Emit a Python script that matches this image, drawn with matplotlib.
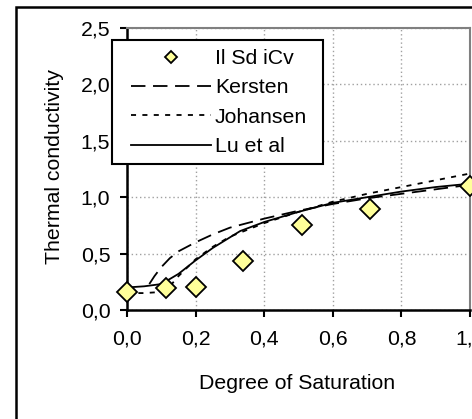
import matplotlib
matplotlib.use("Agg")
import matplotlib.pyplot as plt
from matplotlib.patches import Rectangle

plt.rcParams['font.family'] = ['Liberation Sans', 'DejaVu Sans']

# Measured thermal conductivity vs. degree of saturation
sat_meas = [0.0, 0.113, 0.20, 0.338, 0.51, 0.708, 1.0]
k_meas = [0.16, 0.195, 0.20, 0.435, 0.75, 0.895, 1.10]

# Model predictions
sat_kersten = [0.065, 0.08, 0.10, 0.125, 0.15, 0.20, 0.25, 0.30, 0.40, 0.50, 0.60, 0.70, 0.80, 0.90, 1.0]
k_kersten = [0.23, 0.30, 0.38, 0.46, 0.52, 0.60, 0.67, 0.73, 0.81, 0.88, 0.94, 0.99, 1.03, 1.07, 1.11]

sat_johansen = [0.0, 0.05, 0.10, 0.125, 0.15, 0.20, 0.25, 0.30, 0.40, 0.50, 0.60, 0.70, 0.80, 0.90, 1.0]
k_johansen = [0.15, 0.15, 0.16, 0.21, 0.30, 0.45, 0.56, 0.65, 0.77, 0.87, 0.96, 1.03, 1.09, 1.15, 1.21]

sat_lu = [0.0, 0.05, 0.10, 0.15, 0.20, 0.25, 0.33, 0.40, 0.50, 0.60, 0.70, 0.80, 0.90, 1.0]
k_lu = [0.20, 0.21, 0.23, 0.32, 0.44, 0.55, 0.70, 0.78, 0.87, 0.95, 1.00, 1.05, 1.09, 1.12]

x_ticks = [0.0, 0.2, 0.4, 0.6, 0.8, 1.0]
y_ticks = [0.0, 0.5, 1.0, 1.5, 2.0, 2.5]

FS = 15.3
W, H = 472, 419
fig = plt.figure(figsize=(W / 100, H / 100), dpi=100)

# outer chart frame
fig.patches.append(Rectangle((16 / W, -0.2), 1.5, 1 - 7.5 / H + 0.2,
                             transform=fig.transFigure, fill=False,
                             edgecolor='black', linewidth=1.8))

ax = fig.add_axes([127 / W, 1 - 310 / H, 343 / W, 282 / H])
ax.set_xlim(0, 1)
ax.set_ylim(0, 2.5)

ax.plot(sat_kersten, k_kersten, color='black', lw=1.3, dashes=(8, 4.2), label='Kersten')
ax.plot(sat_johansen, k_johansen, color='black', lw=1.3, dashes=(2.8, 3.5), label='Johansen')
ax.plot(sat_lu, k_lu, color='black', lw=1.3, label='Lu et al')
ax.plot(sat_meas, k_meas, ls='none', marker='D', ms=10.5, mfc='#FFFF99',
        mec='black', mew=1.3, clip_on=False, zorder=5, label='Il Sd iCv')

ax.set_xticks(x_ticks)
ax.set_yticks(y_ticks)
ax.set_xticklabels([f"{v:.1f}".replace('.', ',') for v in x_ticks], fontsize=FS)
ax.set_yticklabels([f"{v:.1f}".replace('.', ',') for v in y_ticks], fontsize=FS)
ax.tick_params(axis='both', direction='out', length=5, width=1.5, color='black', pad=7)
ax.tick_params(axis='x', pad=9)

ax.grid(True, color='#a0a0a0', linestyle=(0, (1, 2)), linewidth=1.0)
ax.set_axisbelow(True)

for side in ('left', 'bottom'):
    ax.spines[side].set_color('black')
    ax.spines[side].set_linewidth(1.8)
for side in ('top', 'right'):
    ax.spines[side].set_color('#808080')
    ax.spines[side].set_linewidth(1.5)

fig.text(297 / W, 1 - 383 / H, 'Degree of Saturation', ha='center', va='center', fontsize=FS)
fig.text(55 / W, 1 - 167 / H, 'Thermal conductivity', ha='center', va='center',
         rotation=90, fontsize=FS)

# legend box
fig.patches.append(Rectangle((112 / W, 1 - 164 / H), 211 / W, 124 / H,
                             transform=fig.transFigure, facecolor='white',
                             edgecolor='black', linewidth=1.5, zorder=4))

handles, labels = ax.get_legend_handles_labels()
order = [3, 0, 1, 2]
leg = fig.legend([handles[i] for i in order], [labels[i] for i in order],
                 loc='upper left', bbox_to_anchor=(131 / W, 1 - 49 / H),
                 fontsize=FS, frameon=False, handlelength=3.75, handletextpad=0.2,
                 borderpad=0, labelspacing=0.49, borderaxespad=0,
                 markerscale=0.6)
leg.set_zorder(5)

fig.savefig('out.png', dpi=100)
